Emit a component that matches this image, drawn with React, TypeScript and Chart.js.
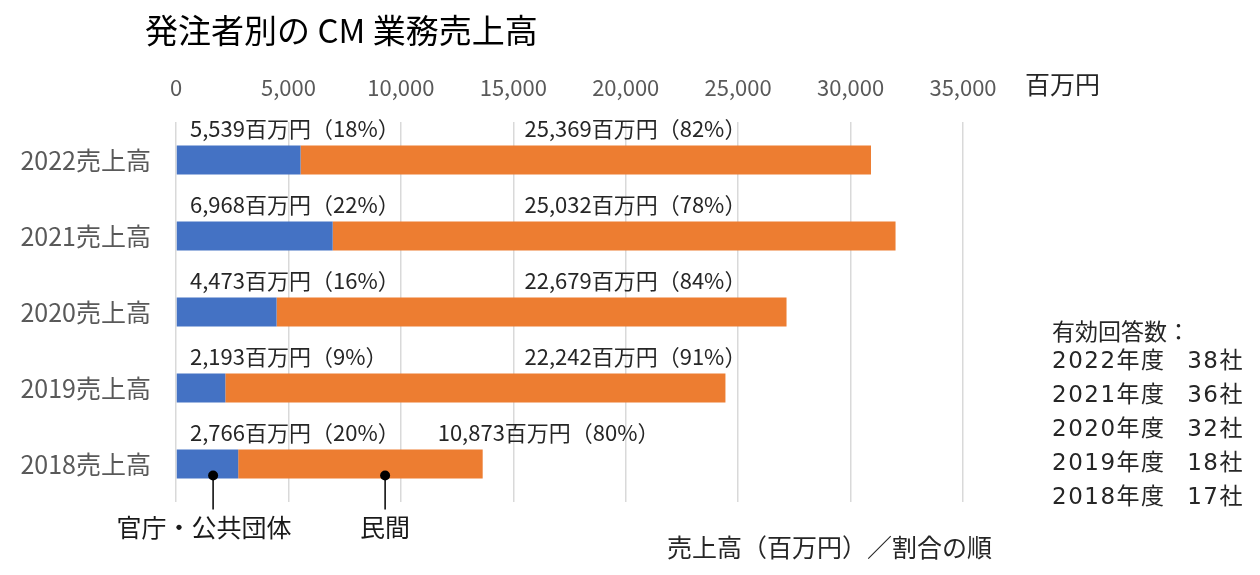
import React, { useEffect, useRef } from "react";
import { Chart, registerables } from "chart.js";

Chart.register(...registerables);

const categories = ["2022売上高", "2021売上高", "2020売上高", "2019売上高", "2018売上高"];
const publicSales = [5539, 6968, 4473, 2193, 2766];
const privateSales = [25369, 25032, 22679, 22242, 10873];
const xTicks = [0, 5000, 10000, 15000, 20000, 25000, 30000, 35000];
const respYears = ["2022年度", "2021年度", "2020年度", "2019年度", "2018年度"];
const respCounts = ["38社", "36社", "32社", "18社", "17社"];

const FONT = '"Noto Sans CJK JP", "Noto Sans", sans-serif';
const WIDE = '"DejaVu Sans", "Noto Sans CJK JP", sans-serif';

const fmt = (v: number) => v.toLocaleString("en-US");

const overlayPlugin = {
  id: "overlay",
  afterDraw(chart: any) {
    const ctx = chart.ctx as CanvasRenderingContext2D;
    const xs = chart.scales.x;
    ctx.save();
    ctx.textBaseline = "middle";

    // title
    ctx.fillStyle = "#000000";
    ctx.font = `33px ${FONT}`;
    ctx.textAlign = "left";
    ctx.fillText("発注者別の CM 業務売上高", 145, 30);

    // axis unit
    ctx.fillStyle = "#262626";
    ctx.font = `25px ${FONT}`;
    ctx.fillText("百万円", 1025, 84);

    // data labels
    ctx.font = `22px ${FONT}`;
    ctx.fillStyle = "#262626";
    const m0 = chart.getDatasetMeta(0);
    const m1 = chart.getDatasetMeta(1);
    categories.forEach((_, i) => {
      const total = publicSales[i] + privateSales[i];
      const p0 = Math.round((publicSales[i] / total) * 100);
      const p1 = Math.round((privateSales[i] / total) * 100);
      const bar0 = m0.data[i];
      const bar1 = m1.data[i];
      const top = bar0.y - bar0.height / 2;
      const ty = top - 17;
      ctx.textAlign = "left";
      ctx.fillText(`${fmt(publicSales[i])}百万円（${p0}%）`, xs.getPixelForValue(0) + 14, ty);
      const endX = bar1.x;
      const lx = Math.min(xs.getPixelForValue(15500), endX - 45);
      ctx.fillText(`${fmt(privateSales[i])}百万円（${p1}%）`, lx, ty);
    });

    // callouts on last bar
    const last = categories.length - 1;
    const b = m0.data[last];
    const dotY = b.y + b.height / 2 - 3;
    const callouts = [
      { v: 1650, text: "官庁・公共団体" },
      { v: 9300, text: "民間" },
    ];
    ctx.strokeStyle = "#000000";
    ctx.fillStyle = "#000000";
    ctx.lineWidth = 1.5;
    callouts.forEach((c) => {
      const x = xs.getPixelForValue(c.v);
      ctx.beginPath();
      ctx.arc(x, dotY, 5, 0, Math.PI * 2);
      ctx.fill();
      ctx.beginPath();
      ctx.moveTo(x, dotY);
      ctx.lineTo(x, dotY + 34);
      ctx.stroke();
    });
    ctx.fillStyle = "#1a1a1a";
    ctx.font = `25px ${FONT}`;
    ctx.textAlign = "center";
    ctx.fillText("官庁・公共団体", 204, 527);
    ctx.fillText("民間", xs.getPixelForValue(9300), 527);

    ctx.textAlign = "left";
    ctx.fillStyle = "#262626";
    ctx.fillText("売上高（百万円）／割合の順", 667, 547);

    // response counts
    ctx.fillStyle = "#262626";
    ctx.textAlign = "left";
    ctx.font = `23px ${FONT}`;
    ctx.fillText("有効回答数：", 1052, 331);
    ctx.font = `23px ${WIDE}`;
    try {
      (ctx as any).letterSpacing = "1.5px";
    } catch (e) {}
    respYears.forEach((y, i) => {
      const yy = 362 + i * 34;
      ctx.textAlign = "left";
      ctx.fillText(y, 1052, yy);
      ctx.textAlign = "right";
      ctx.fillText(respCounts[i], 1244, yy);
    });
    ctx.restore();
  },
};

export default function App() {
  const ref = useRef<HTMLCanvasElement | null>(null);
  useEffect(() => {
    if (!ref.current) return;
    const chart = new Chart(ref.current, {
      type: "bar",
      data: {
        labels: categories,
        datasets: [
          {
            label: "官庁・公共団体",
            data: publicSales,
            backgroundColor: "#4472C4",
            categoryPercentage: 1,
            barPercentage: 0.38,
          },
          {
            label: "民間",
            data: privateSales,
            backgroundColor: "#ED7D31",
            categoryPercentage: 1,
            barPercentage: 0.38,
          },
        ],
      },
      options: {
        indexAxis: "y",
        animation: false,
        responsive: false,
        devicePixelRatio: 1,
        layout: { padding: { left: 0, top: 0, right: 297, bottom: 73 } },
        plugins: {
          legend: { display: false },
          tooltip: { enabled: false },
          title: { display: false },
        },
        scales: {
          x: {
            position: "top",
            stacked: true,
            min: 0,
            max: 35000,
            afterBuildTicks: (scale: any) => {
              scale.ticks = xTicks.map((v) => ({ value: v }));
            },
            afterFit: (scale: any) => {
              scale.height = 122;
            },
            border: { display: false },
            grid: { color: "#D9D9D9", lineWidth: 1.5, drawTicks: false },
            ticks: {
              color: "#595959",
              font: { family: FONT, size: 22 },
              padding: 21,
              callback: (v: any) => fmt(Number(v)),
            },
          },
          y: {
            stacked: true,
            afterFit: (scale: any) => {
              scale.width = 176;
            },
            border: { display: false },
            grid: { display: false, drawTicks: false },
            ticks: {
              color: "#595959",
              font: { family: FONT, size: 25 },
              padding: 25,
            },
          },
        },
      },
      plugins: [overlayPlugin],
    });
    return () => chart.destroy();
  }, []);
  return (
    <div style={{ position: "fixed", left: 0, top: 0, width: 1260, height: 575, background: "#fff" }}>
      <canvas ref={ref} width={1260} height={575} style={{ width: 1260, height: 575 }} />
    </div>
  );
}
